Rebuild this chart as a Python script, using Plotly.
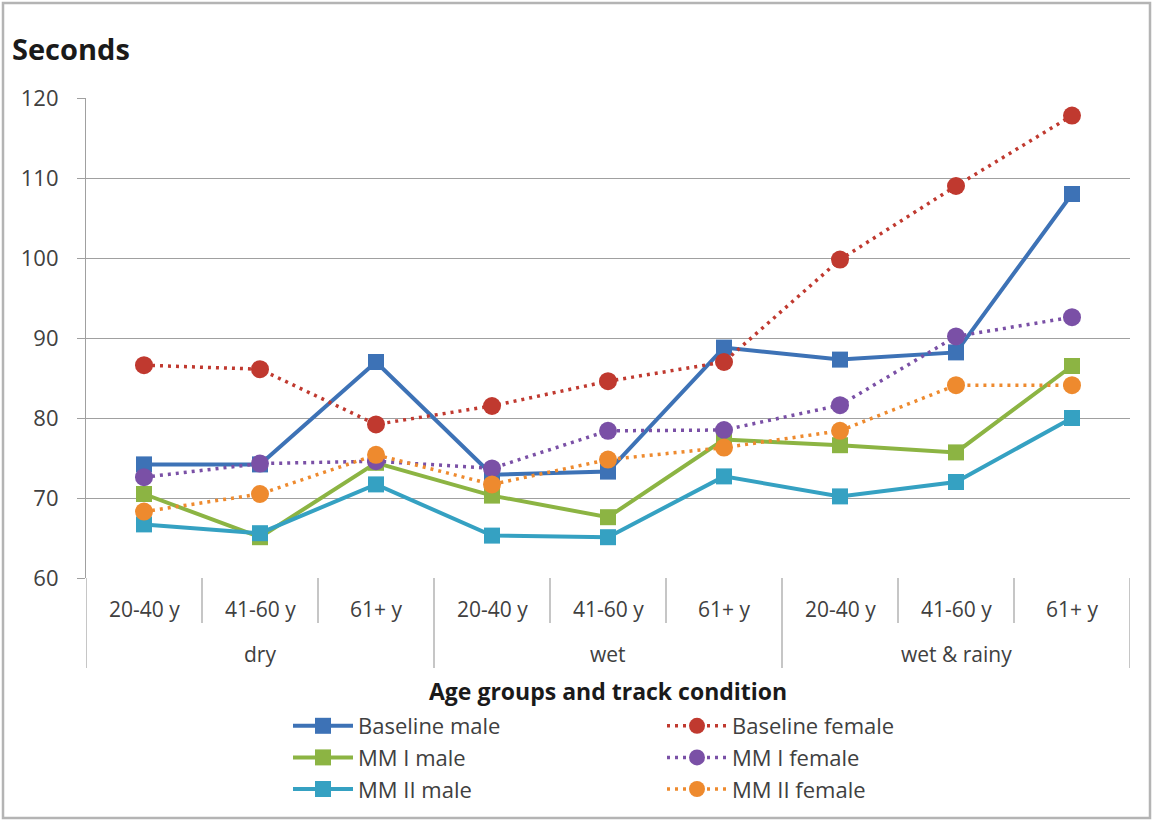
import plotly.graph_objects as go

# Category structure: three track conditions, each split into three age groups
conditions = ["dry", "wet", "wet & rainy"]
age_groups = ["20-40 y", "41-60 y", "61+ y"]

# Completion times in seconds, one value per (condition, age group)
baseline_male = [74.2, 74.2, 87.0, 72.9, 73.3, 88.8, 87.3, 88.2, 108.0]
baseline_female = [86.6, 86.1, 79.2, 81.5, 84.6, 87.0, 99.8, 109.0, 117.8]
mm1_male = [70.5, 65.1, 74.4, 70.3, 67.6, 77.3, 76.6, 75.7, 86.5]
mm1_female = [72.6, 74.3, 74.6, 73.7, 78.4, 78.5, 81.6, 90.2, 92.6]
mm2_male = [66.7, 65.6, 71.7, 65.3, 65.1, 72.7, 70.2, 72.0, 80.0]
mm2_female = [68.3, 70.5, 75.4, 71.7, 74.8, 76.3, 78.4, 84.1, 84.1]

y_ticks = [60, 70, 80, 90, 100, 110, 120]

FONT = "'Open Sans', Lato, sans-serif"
TEXT = "#404040"
GRID = "#a0a0a0"

# flat category positions along the x axis
labels = [(c, a) for c in conditions for a in age_groups]
xpos = list(range(len(labels)))

series = [
    ("Baseline male", baseline_male, "#3d72b6", "square", "solid", "legend"),
    ("Baseline female", baseline_female, "#c0392f", "circle", "dot", "legend2"),
    ("MM I male", mm1_male, "#8cb443", "square", "solid", "legend"),
    ("MM I female", mm1_female, "#7a50a6", "circle", "dot", "legend2"),
    ("MM II male", mm2_male, "#35a1c2", "square", "solid", "legend"),
    ("MM II female", mm2_female, "#ee8a2e", "circle", "dot", "legend2"),
]

fig = go.Figure()
for name, vals, color, symbol, dash, leg in series:
    solid = dash == "solid"
    fig.add_trace(go.Scatter(
        x=xpos, y=vals, name=name, mode="lines+markers",
        legend=leg,
        line=dict(color=color, width=4 if solid else 3.5,
                  dash="solid" if solid else "3px,5px"),
        marker=dict(symbol=symbol, size=16 if solid else 18, color=color,
                    line=dict(width=0)),
    ))

shapes = []
# vertical separators of the two-level category table under the plot
n = len(labels)
for b in range(n + 1):
    edge = b % len(age_groups) == 0
    shapes.append(dict(
        type="line", xref="x", yref="paper", ysizemode="pixel", yanchor=0,
        x0=b - 0.5, x1=b - 0.5, y0=0, y1=-90 if edge else -45,
        line=dict(color=GRID, width=1.2),
    ))
# chart frame
shapes.append(dict(
    type="rect", xref="paper", yref="paper",
    x0=-83 / 1044, x1=1064 / 1044, y0=-240 / 480, y1=575 / 480,
    line=dict(color="#b4b4b4", width=2.5), layer="below",
))

annotations = []
for i, (c, a) in enumerate(labels):
    annotations.append(dict(
        x=i, y=0, xref="x", yref="paper", yshift=-31, text=a,
        showarrow=False, yanchor="middle",
        font=dict(family=FONT, size=21, color=TEXT),
    ))
for g, c in enumerate(conditions):
    centre = sum(xpos[g * 3:(g + 1) * 3]) / 3
    annotations.append(dict(
        x=centre, y=0, xref="x", yref="paper", yshift=-76, text=c,
        showarrow=False, yanchor="middle",
        font=dict(family=FONT, size=21, color=TEXT),
    ))
annotations.append(dict(
    x=0.5, y=0, xref="paper", yref="paper", yshift=-113,
    text="<b>Age groups and track condition</b>", showarrow=False,
    yanchor="middle", font=dict(family=FONT, size=23, color="#1a1a1a"),
))

legend_style = dict(
    orientation="v", yanchor="top", xanchor="left",
    font=dict(family=FONT, size=22, color=TEXT),
    bgcolor="rgba(0,0,0,0)", itemwidth=60, tracegroupgap=0,
)

fig.update_layout(
    width=1153, height=822,
    margin=dict(l=86, r=23, t=98, b=244, autoexpand=False),
    paper_bgcolor="white", plot_bgcolor="white",
    title=dict(text="<b>Seconds</b>", x=12 / 1153, xref="container",
               xanchor="left", y=1 - 50 / 822, yref="container",
               yanchor="middle",
               font=dict(family=FONT, size=29, color="#1a1a1a")),
    xaxis=dict(range=[-0.5, n - 0.5], showticklabels=False, showgrid=False,
               zeroline=False, ticks=""),
    yaxis=dict(range=[60, 120], tickvals=y_ticks, showgrid=True,
               gridcolor=GRID, gridwidth=1.2, zeroline=False,
               showline=True, linecolor=GRID, linewidth=1.2,
               ticks="outside", ticklen=8, tickcolor=GRID, tickwidth=1.2,
               ticklabelstandoff=14,
               tickfont=dict(family=FONT, size=22, color=TEXT)),
    legend=dict(x=(288 - 86) / 1044, y=-127 / 480, **legend_style),
    legend2=dict(x=(662 - 86) / 1044, y=-127 / 480, **legend_style),
    shapes=shapes, annotations=annotations,
    showlegend=True,
)

fig.write_html("out.html")
